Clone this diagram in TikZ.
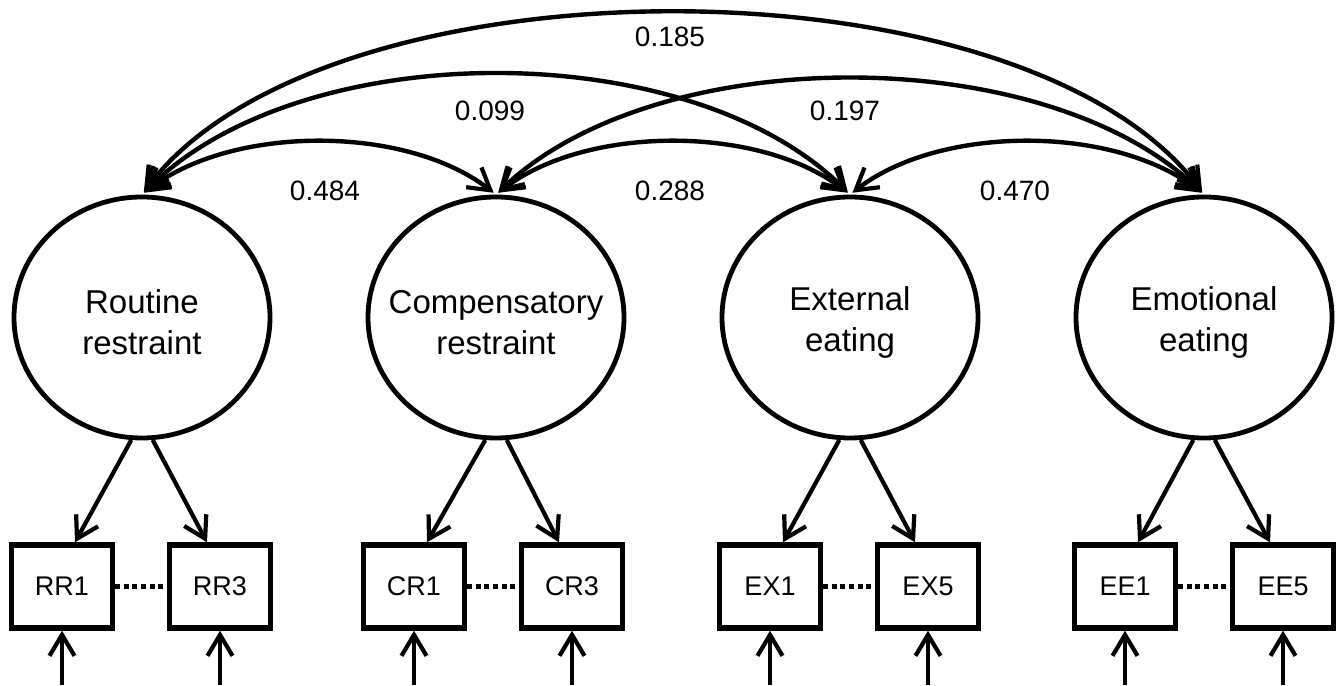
\documentclass[tikz,border=0pt]{standalone}
\usepackage{fontspec}
\setmainfont{Liberation Sans}
\usetikzlibrary{arrows.meta,shapes.geometric}
\begin{document}
\begin{tikzpicture}[x=0.5pt,y=0.5pt,
    latent/.style={draw,ellipse,line width=2.4pt,minimum width=128pt,minimum height=120.5pt,inner sep=0pt},
    ltext/.style={align=center,yshift=-2.5pt,font=\fontsize{16.5}{20.5}\selectfont},
    obs/.style={draw,rectangle,line width=2.7pt,minimum width=50.5pt,minimum height=41.5pt,inner sep=0pt,font=\fontsize{13.5}{15}\selectfont},
    barb/.tip={Straight Barb[length=10.5pt,width=12.5pt,line width=2.1pt]},
    load/.style={line width=2.1pt,-barb},
    cov/.style={line width=2.2pt,barb-barb,shorten >=1.5pt,shorten <=1.5pt},
    dotline/.style={line width=2.3pt,dash pattern=on 2.5pt off 1.8pt},
    val/.style={font=\fontsize{14}{16}\selectfont}]
    \useasboundingbox (0,0) rectangle (1342,685);
    % latent factors
    \node[latent,label={[ltext]center:Routine\\restraint}] (RR) at (142,367.5) {};
    \node[latent,label={[ltext]center:Compensatory\\restraint}] (CR) at (496,367.5) {};
    \node[latent,label={[ltext]center:External\\eating}] (EX) at (850,367.5) {};
    \node[latent,label={[ltext]center:Emotional\\eating}] (EE) at (1204,367.5) {};
    % indicators
    \node[obs] (RR1) at (62,98.5) {RR1};
    \node[obs] (RR3) at (220,98.5) {RR3};
    \node[obs] (CR1) at (414,98.5) {CR1};
    \node[obs] (CR3) at (572,98.5) {CR3};
    \node[obs] (EX1) at (770,98.5) {EX1};
    \node[obs] (EX5) at (928,98.5) {EX5};
    \node[obs] (EE1) at (1125,98.5) {EE1};
    \node[obs] (EE5) at (1283,98.5) {EE5};
    \draw[dotline] (RR1) -- (RR3);
    \draw[dotline] (CR1) -- (CR3);
    \draw[dotline] (EX1) -- (EX5);
    \draw[dotline] (EE1) -- (EE5);
    % loadings
    \draw[load] (RR.-95) -- ([xshift=6.5pt]RR1.north);
    \draw[load] (RR.-85) -- ([xshift=-6.5pt]RR3.north);
    \draw[load] (CR.-95) -- ([xshift=6.5pt]CR1.north);
    \draw[load] (CR.-85) -- ([xshift=-6.5pt]CR3.north);
    \draw[load] (EX.-95) -- ([xshift=6.5pt]EX1.north);
    \draw[load] (EX.-85) -- ([xshift=-6.5pt]EX5.north);
    \draw[load] (EE.-95) -- ([xshift=6.5pt]EE1.north);
    \draw[load] (EE.-85) -- ([xshift=-6.5pt]EE5.north);
    % residuals
    \coordinate (eRR1) at (62,0);
    \coordinate (eRR3) at (220,0);
    \coordinate (eCR1) at (414,0);
    \coordinate (eCR3) at (572,0);
    \coordinate (eEX1) at (770,0);
    \coordinate (eEX5) at (928,0);
    \coordinate (eEE1) at (1125,0);
    \coordinate (eEE5) at (1283,0);
    \draw[load] (eRR1) -- (RR1.south);
    \draw[load] (eRR3) -- (RR3.south);
    \draw[load] (eCR1) -- (CR1.south);
    \draw[load] (eCR3) -- (CR3.south);
    \draw[load] (eEX1) -- (EX1.south);
    \draw[load] (eEX5) -- (EX5.south);
    \draw[load] (eEE1) -- (EE1.south);
    \draw[load] (eEE5) -- (EE5.south);
    % correlations
    \draw[cov] (RR.north) .. controls +(90,70) and +(-90,70) .. (CR.north);
    \draw[cov] (CR.north) .. controls +(90,70) and +(-90,70) .. (EX.north);
    \draw[cov] (EX.north) .. controls +(90,70) and +(-90,70) .. (EE.north);
    \draw[cov] (RR.north) .. controls +(160,160) and +(-160,160) .. (EX.north);
    \draw[cov] (CR.north) .. controls +(160,154) and +(-160,154) .. (EE.north);
    \draw[cov] (RR.north) .. controls +(180,242) and +(-180,242) .. (EE.north);
    \node[val] (rRRCR) at (325,494) {0.484};
    \node[val] (rCREX) at (670,494) {0.288};
    \node[val] (rEXEE) at (1015,494) {0.470};
    \node[val] (rRREX) at (490,574) {0.099};
    \node[val] (rCREE) at (845,574) {0.197};
    \node[val] (rRREE) at (670,648) {0.185};
\end{tikzpicture}
\end{document}
